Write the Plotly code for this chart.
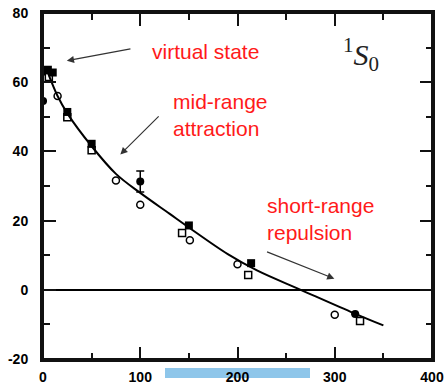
import plotly.graph_objects as go

# theory curve
curve_x = [4, 15, 25, 50, 75, 100, 130, 150, 190, 220, 265, 320, 350]
curve_y = [63.5, 56, 51, 41.5, 33.5, 28, 22, 18, 10.3, 5.6, 0, -6.8, -10.3]

# data sets
fsq_x = [5, 10, 25, 50, 150, 214]
fsq_y = [63.6, 62.8, 51.4, 42.2, 18.6, 7.7]
osq_x = [6, 25, 50, 143, 211, 326]
osq_y = [61.5, 49.9, 40.3, 16.4, 4.3, -9.0]
fci_x = [0, 0, 100, 321]
fci_y = [54.6, 63.0, 31.3, -7.0]
fci_err = [0, 0, 3.0, 0]
oci_x = [15, 75, 100, 151, 200, 300]
oci_y = [56.0, 31.6, 24.6, 14.3, 7.4, -7.2]

x_ticks = [0, 100, 200, 300, 400]
y_ticks = [-20, 0, 20, 40, 60, 80]
X_RANGE = [0, 400]
Y_RANGE = [-20, 80]
INK = "#111111"

fig = go.Figure()
fig.add_trace(go.Scatter(x=curve_x, y=curve_y, mode="lines",
                         line=dict(color="black", width=2, shape="spline", smoothing=1.0),
                         hoverinfo="skip"))
fig.add_trace(go.Scatter(x=osq_x, y=osq_y, mode="markers",
                         marker=dict(symbol="square-open", size=7, color="black",
                                     line=dict(width=1.5, color="black"))))
fig.add_trace(go.Scatter(x=oci_x, y=oci_y, mode="markers",
                         marker=dict(symbol="circle-open", size=7, color="black",
                                     line=dict(width=1.5, color="black"))))
fig.add_trace(go.Scatter(x=fsq_x, y=fsq_y, mode="markers",
                         marker=dict(symbol="square", size=8, color="black")))
fig.add_trace(go.Scatter(x=fci_x, y=fci_y, mode="markers",
                         error_y=dict(type="data", array=fci_err, color="black",
                                      thickness=1.5, width=4),
                         marker=dict(symbol="circle", size=8, color="black")))

# empty traces so the tick-only overlay axes are drawn
for k in range(2, 6):
    fig.add_trace(go.Scatter(x=[], y=[], xaxis=f"x{k}", yaxis=f"y{k}",
                             hoverinfo="skip", showlegend=False))

tickfont = dict(family="Liberation Sans", size=14, color="black")

# main axes: labels, frame line, zero line
fig.update_layout(
    xaxis=dict(range=X_RANGE, tickmode="array", tickvals=x_ticks,
               ticktext=[f"<b>{v}</b>" for v in x_ticks],
               ticks="outside", ticklen=3, tickcolor="rgba(0,0,0,0)",
               showline=True, linecolor=INK, linewidth=3, mirror=True,
               showgrid=True, gridcolor="rgba(0,0,0,0)", zeroline=False, tickfont=tickfont),
    yaxis=dict(range=Y_RANGE, tickmode="array", tickvals=y_ticks,
               ticktext=[f"<b>{v}</b>" for v in y_ticks],
               ticks="outside", ticklen=9, tickcolor="rgba(0,0,0,0)",
               showline=True, linecolor=INK, linewidth=3, mirror=True,
               showgrid=True, gridcolor="rgba(0,0,0,0)",
               zeroline=True, zerolinecolor="black", zerolinewidth=1.5,
               tickfont=tickfont),
)

# tick-only overlay axes (outside ticks pointing into the plot)
def tick_axis(rng, dtick, ln, side, pos, over):
    return dict(range=rng, overlaying=over, anchor="free", position=pos, side=side,
                tickmode="linear", tick0=0, dtick=dtick, ticks="outside", ticklen=ln,
                tickwidth=2, tickcolor=INK, showticklabels=False, showline=False,
                showgrid=False, zeroline=False)

fig.update_layout(
    xaxis2=tick_axis(X_RANGE, 100, 12, "top", 0, "x"),
    xaxis3=tick_axis(X_RANGE, 50, 6, "top", 0, "x"),
    xaxis4=tick_axis(X_RANGE, 100, 12, "bottom", 1, "x"),
    xaxis5=tick_axis(X_RANGE, 50, 6, "bottom", 1, "x"),
    yaxis2=tick_axis(Y_RANGE, 20, 12, "right", 0, "y"),
    yaxis3=tick_axis(Y_RANGE, 10, 6, "right", 0, "y"),
    yaxis4=tick_axis(Y_RANGE, 20, 12, "left", 1, "y"),
    yaxis5=tick_axis(Y_RANGE, 10, 6, "left", 1, "y"),
)

red = dict(family="Liberation Sans", size=21, color="#ff1a1a")
arrow = dict(showarrow=True, arrowhead=2, arrowsize=1.2, arrowwidth=1.2,
             arrowcolor="#333333", axref="x", ayref="y", xref="x", yref="y")
ann = []
ann.append(dict(x=110, y=68.8, xref="x", yref="y", text="virtual state", showarrow=False,
                 xanchor="left", yanchor="middle", font=red))
ann.append(dict(x=24.5, y=66.2, ax=93, ay=69.8, text=" ", **arrow))
ann.append(dict(x=132, y=50.6, xref="x", yref="y", text="mid-range<br>attraction",
                 showarrow=False, xanchor="left", yanchor="middle", align="left", font=red))
ann.append(dict(x=79.5, y=39.1, ax=122, ay=51, text=" ", **arrow))
ann.append(dict(x=228, y=20.4, xref="x", yref="y", text="short-range<br>repulsion",
                 showarrow=False, xanchor="left", yanchor="middle", align="left", font=red))
ann.append(dict(x=299.6, y=3.2, ax=227.3, ay=11.3, text=" ", **arrow))
ann.append(dict(x=327, y=68, xref="x", yref="y",
                 text="<sup>1</sup><i>S</i><sub>0</sub>", showarrow=False,
                 xanchor="center", yanchor="middle",
                 font=dict(family="Liberation Serif", size=30, color="#222222")))
fig.update_layout(annotations=ann)

# frame (backup for the axis lines) and the blue bar under the x axis
fig.add_shape(type="rect", xref="paper", yref="paper", x0=0, x1=1, y0=0, y1=1,
              line=dict(color=INK, width=2), fillcolor="rgba(0,0,0,0)", layer="above")
fig.add_shape(type="rect", xref="paper", yref="paper",
              x0=(165 - 43) / 389, x1=(310 - 43) / 389,
              y0=-(368 - 359) / 346, y1=-(378 - 359) / 346,
              fillcolor="#8ec6ea", line=dict(width=0), layer="below")

fig.update_layout(width=448, height=386, showlegend=False,
                  margin=dict(l=43, r=16, t=13, b=27, autoexpand=False),
                  plot_bgcolor="white", paper_bgcolor="white")
# remove the default page margin so the figure fills the 448x386 window
fig.write_html("out.html", config={"displayModeBar": False},
               post_script="document.body.style.margin='0';")
